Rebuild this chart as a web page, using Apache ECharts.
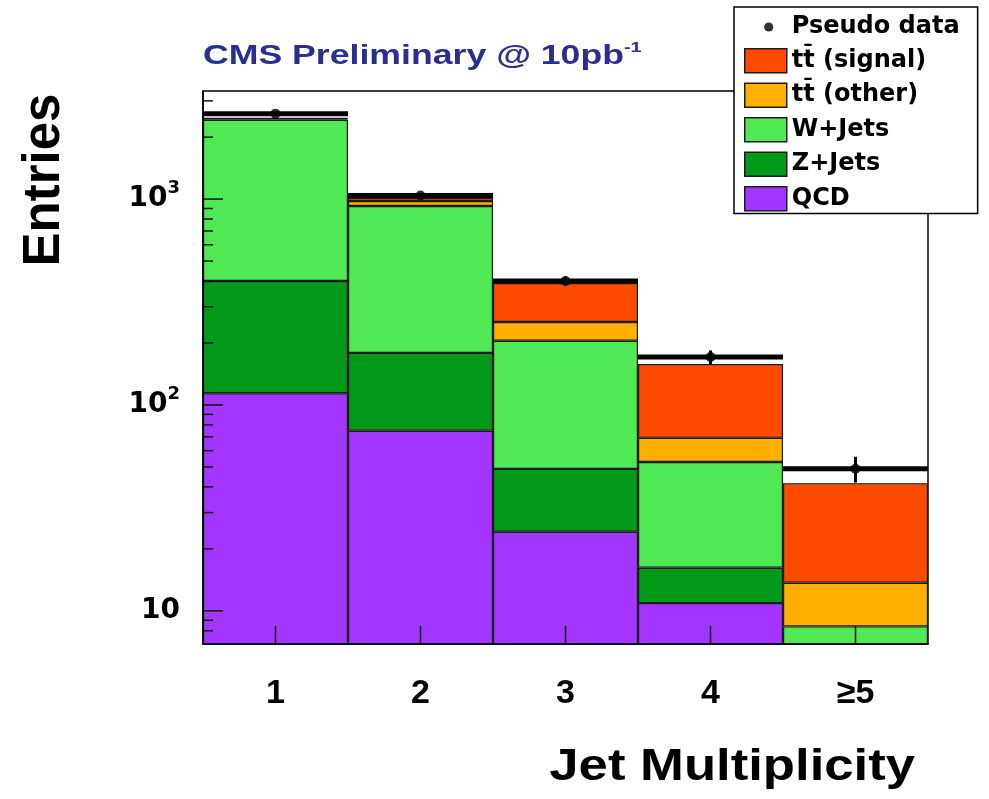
<!DOCTYPE html>
<html>
<head>
<meta charset="utf-8">
<script src="https://cdn.jsdelivr.net/npm/echarts@6/dist/echarts.min.js"></script>
<style>
  html, body { margin: 0; padding: 0; background: #fff; }
  #chart { width: 989px; height: 799px; }
</style>
</head>
<body>
<div id="chart"></div>
<script>
// Jet multiplicity bins
const categories = ['1', '2', '3', '4', '\u22655'];

// Stacked expectations per bin (events)
const qcd      = [114, 75, 24.2, 10.9, 3.0];
const zJets    = [286, 104, 24.7, 5.3, 2.0];
const wJets    = [2030, 746, 156, 36.6, 3.4];
const ttOther  = [30, 53, 48, 16.4, 5.3];
const ttSignal = [12, 33, 138, 89, 28];

// Pseudo data and its statistical uncertainty
const pseudoData = [2600, 1040, 400, 171, 49];
const dataErr    = [51, 32, 20, 13, 7];

// Log axis range and tick marks
const yMin = 6.9;
const yMax = 3350;
const yMajorTicks = [10, 100, 1000];
const yMinorTicks = [8, 9, 20, 30, 40, 50, 60, 70, 80, 90,
                     200, 300, 400, 500, 600, 700, 800, 900, 2000, 3000];

const seriesNames = {
  data: 'Pseudo data',
  sig: 'tt\u0304 (signal)',
  oth: 'tt\u0304 (other)',
  w: 'W+Jets',
  z: 'Z+Jets',
  qcd: 'QCD'
};
const colors = {
  sig: '#ff4b00',
  oth: '#ffb000',
  w: '#50e854',
  z: '#03991a',
  qcd: '#a236ff'
};

const FONT_WIDE = 'DejaVu Sans';
const FONT_HELV = 'Liberation Sans';

function stackBar(name, values, color) {
  return {
    name: name,
    type: 'bar',
    stack: 'mc',
    data: values,
    barWidth: '100%',
    clip: true,
    itemStyle: { color: color, borderColor: '#1c1c1c', borderWidth: 1.2 },
    emphasis: { disabled: true },
    z: 2
  };
}

const dotSvg = "<svg xmlns='http://www.w3.org/2000/svg' width='42' height='24'>" +
               "<circle cx='24' cy='12' r='4.6' fill='black'/></svg>";
const dotIcon = 'image://data:image/svg+xml;charset=utf-8,' + encodeURIComponent(dotSvg);

const tickData = yMajorTicks.map(v => [0, v, 1]).concat(yMinorTicks.map(v => [0, v, 0]));

const option = {
  animation: false,
  backgroundColor: '#fff',
  grid: {
    left: 203, right: 61, top: 91, bottom: 155,
    show: true, borderColor: '#000', borderWidth: 1.5, backgroundColor: '#fff'
  },
  xAxis: {
    type: 'category',
    data: categories,
    boundaryGap: true,
    z: 10,
    axisLine: { lineStyle: { color: '#000', width: 1.5 } },
    axisTick: { show: false },
    axisLabel: { margin: 33, fontFamily: FONT_HELV, fontWeight: 'bold', fontSize: 34, color: '#000' },
    splitLine: { show: false }
  },
  yAxis: {
    type: 'log',
    logBase: 10,
    min: yMin,
    max: yMax,
    z: 10,
    axisLine: { show: true, lineStyle: { color: '#000', width: 1.5 } },
    axisTick: { show: false },
    minorTick: { show: false },
    splitLine: { show: false },
    axisLabel: {
      margin: 23,
      formatter: function (value) {
        const p = Math.log10(value);
        const n = Math.round(p);
        if (Math.abs(p - n) > 1e-6) return '';
        if (n === 1) return '{b|10}';
        return '{b|10}{s|' + n + '}';
      },
      rich: {
        b: { fontFamily: FONT_WIDE, fontWeight: 'bold', fontSize: 28, lineHeight: 28,
             color: '#000', verticalAlign: 'bottom' },
        s: { fontFamily: FONT_WIDE, fontWeight: 'bold', fontSize: 18, lineHeight: 18,
             color: '#000', verticalAlign: 'bottom', padding: [0, 0, 16, 0] }
      }
    }
  },
  legend: {
    orient: 'vertical',
    left: 734,
    top: 7,
    padding: [8, 18, 2, 10],
    itemWidth: 42,
    itemHeight: 24,
    itemGap: 9,
    backgroundColor: '#fff',
    borderColor: '#000',
    borderWidth: 1.5,
    borderRadius: 0,
    selectedMode: false,
    z: 20,
    textStyle: { fontFamily: FONT_WIDE, fontWeight: 'bold', fontSize: 24, lineHeight: 24, color: '#000' },
    itemStyle: { borderColor: '#1c1c1c', borderWidth: 1.5 },
    data: [
      { name: seriesNames.data, icon: dotIcon },
      { name: seriesNames.sig, icon: 'rect' },
      { name: seriesNames.oth, icon: 'rect' },
      { name: seriesNames.w, icon: 'rect' },
      { name: seriesNames.z, icon: 'rect' },
      { name: seriesNames.qcd, icon: 'rect' }
    ]
  },
  graphic: [
    {
      type: 'text',
      x: 203, y: 57,
      scaleX: 1.32,
      style: {
        text: '{m|CMS Preliminary @ 10pb}{s|-1}',
        align: 'left',
        verticalAlign: 'middle',
        rich: {
          m: { fontFamily: FONT_HELV, fontWeight: 'bold', fontSize: 27, lineHeight: 27,
               fill: '#2a2f8f', verticalAlign: 'bottom' },
          s: { fontFamily: FONT_HELV, fontWeight: 'bold', fontSize: 15, lineHeight: 15,
               fill: '#2a2f8f', verticalAlign: 'bottom', padding: [0, 0, 15, 0] }
        }
      }
    },
    {
      type: 'text',
      x: 45, y: 180,
      rotation: Math.PI / 2,
      style: {
        text: 'Entries',
        fontFamily: FONT_HELV, fontWeight: 'bold', fontSize: 51,
        fill: '#000', align: 'center', verticalAlign: 'middle'
      }
    },
    {
      type: 'text',
      x: 915, y: 768,
      scaleX: 1.17,
      style: {
        text: 'Jet Multiplicity',
        fontFamily: FONT_HELV, fontWeight: 'bold', fontSize: 45,
        fill: '#000', align: 'right', verticalAlign: 'middle'
      }
    }
  ],
  series: [
    stackBar(seriesNames.qcd, qcd, colors.qcd),
    stackBar(seriesNames.z, zJets, colors.z),
    stackBar(seriesNames.w, wJets, colors.w),
    stackBar(seriesNames.oth, ttOther, colors.oth),
    stackBar(seriesNames.sig, ttSignal, colors.sig),
    {
      // pseudo data drawn as a thick step per bin
      type: 'custom',
      name: 'data-steps',
      data: pseudoData.map((v, i) => [i, v]),
      encode: { x: 0, y: 1 },
      z: 5,
      silent: true,
      renderItem: function (params, api) {
        const c = api.coord([api.value(0), api.value(1)]);
        const w = api.size([1, 0])[0];
        return {
          type: 'line',
          shape: { x1: c[0] - w / 2, y1: c[1], x2: c[0] + w / 2, y2: c[1] },
          style: { stroke: '#000', lineWidth: 5 }
        };
      }
    },
    {
      // vertical error bars on the pseudo data
      type: 'custom',
      name: 'data-errors',
      data: pseudoData.map((v, i) => [i, v, dataErr[i]]),
      encode: { x: 0, y: 1 },
      z: 6,
      silent: true,
      renderItem: function (params, api) {
        const i = api.value(0), v = api.value(1), e = api.value(2);
        const hi = api.coord([i, v + e]);
        const lo = api.coord([i, v - e]);
        return {
          type: 'line',
          shape: { x1: hi[0], y1: hi[1], x2: lo[0], y2: lo[1] },
          style: { stroke: '#000', lineWidth: 3 }
        };
      }
    },
    {
      name: seriesNames.data,
      type: 'scatter',
      data: pseudoData.map((v, i) => [i, v]),
      symbol: 'circle',
      symbolSize: 10,
      itemStyle: { color: '#000' },
      z: 7
    },
    {
      // log-axis tick marks on the left edge
      type: 'custom',
      name: 'y-ticks',
      data: tickData,
      encode: { x: 0, y: 1 },
      z: 8,
      silent: true,
      renderItem: function (params, api) {
        const y = api.coord([0, api.value(1)])[1];
        const x0 = params.coordSys.x;
        const len = api.value(2) ? 20 : 10;
        return {
          type: 'line',
          shape: { x1: x0, y1: y, x2: x0 + len, y2: y },
          style: { stroke: '#111', lineWidth: 1.5 }
        };
      }
    },
    {
      // category tick marks, pointing up from the bottom edge at each bin centre
      type: 'custom',
      name: 'x-ticks',
      data: categories.map((c, i) => [i, yMin]),
      encode: { x: 0, y: 1 },
      z: 8,
      silent: true,
      renderItem: function (params, api) {
        const x = api.coord([api.value(0), yMin])[0];
        const y0 = params.coordSys.y + params.coordSys.height;
        return {
          type: 'line',
          shape: { x1: x, y1: y0, x2: x, y2: y0 - 18 },
          style: { stroke: '#111', lineWidth: 1.5 }
        };
      }
    }
  ]
};

const chart = echarts.init(document.getElementById('chart'));
chart.setOption(option);
</script>
</body>
</html>
